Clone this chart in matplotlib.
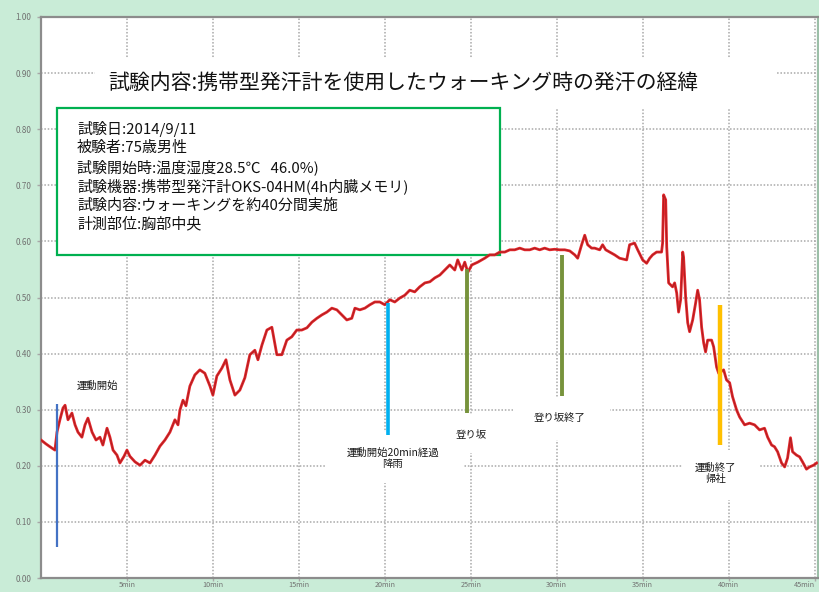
import matplotlib
matplotlib.use("Agg")
import matplotlib.pyplot as plt
from matplotlib.patches import Rectangle

plt.rcParams['font.family'] = ['Noto Sans CJK JP', 'DejaVu Sans']

# ---- data ----
minutes = [0.00, 0.29, 0.52, 0.81, 0.93, 1.10, 1.28, 1.40, 1.57, 1.80, 1.98, 2.15, 2.38, 2.56, 2.73,
           2.97, 3.20, 3.43, 3.60, 3.84, 4.01, 4.19, 4.42, 4.59, 4.83, 5.00, 5.17, 5.47, 5.76, 6.05,
           6.34, 6.63, 6.92, 7.21, 7.50, 7.79, 7.97, 8.08, 8.26, 8.43, 8.66, 8.95, 9.24, 9.53, 9.83,
           10.00, 10.23, 10.52, 10.76, 10.99, 11.28, 11.57, 11.86, 12.15, 12.44, 12.62, 12.85, 13.14,
           13.43, 13.72, 14.01, 14.30, 14.59, 14.88, 15.17, 15.47, 15.76, 16.05, 16.34, 16.63, 16.92,
           17.21, 17.50, 17.79, 18.08, 18.26, 18.55, 18.84, 19.13, 19.42, 19.71, 20.00, 20.29, 20.58,
           20.87, 21.16, 21.45, 21.74, 22.03, 22.33, 22.62, 22.91, 23.20, 23.49, 23.78, 24.07, 24.24,
           24.48, 24.65, 24.83, 25.06, 25.41, 25.81, 26.10, 26.40, 26.69, 26.98, 27.27, 27.56, 27.85,
           28.14, 28.43, 28.72, 29.01, 29.30, 29.59, 29.88, 30.17, 30.47, 30.76, 31.05, 31.22, 31.45,
           31.63, 31.80, 32.03, 32.21, 32.50, 32.67, 32.85, 33.08, 33.37, 33.66, 34.07, 34.24, 34.53,
           34.71, 35.00, 35.23, 35.41, 35.58, 35.81, 36.10, 36.16, 36.22, 36.34, 36.40, 36.51, 36.74,
           36.86, 36.98, 37.09, 37.21, 37.33, 37.38, 37.50, 37.62, 37.73, 37.91, 38.08, 38.20, 38.31,
           38.43, 38.55, 38.66, 38.78, 39.01, 39.13, 39.30, 39.42, 39.71, 39.88, 40.06, 40.23, 40.47,
           40.64, 40.93, 41.22, 41.51, 41.80, 42.09, 42.27, 42.50, 42.67, 42.85, 43.08, 43.26, 43.43,
           43.60, 43.72, 43.95, 44.13, 44.30, 44.53, 44.71, 44.94, 45.12]
sweat = [0.246, 0.239, 0.234, 0.228, 0.260, 0.282, 0.303, 0.308, 0.282, 0.294, 0.273, 0.260, 0.251, 0.273, 0.285,
         0.260, 0.246, 0.251, 0.237, 0.267, 0.251, 0.228, 0.219, 0.205, 0.217, 0.228, 0.217, 0.207, 0.201, 0.210,
         0.205, 0.219, 0.235, 0.246, 0.260, 0.282, 0.273, 0.299, 0.317, 0.307, 0.342, 0.362, 0.371, 0.365, 0.342,
         0.326, 0.360, 0.374, 0.389, 0.353, 0.326, 0.335, 0.357, 0.398, 0.406, 0.389, 0.415, 0.442,
         0.447, 0.398, 0.398, 0.424, 0.430, 0.442, 0.442, 0.446, 0.456, 0.463, 0.469, 0.474, 0.481,
         0.478, 0.469, 0.460, 0.463, 0.481, 0.478, 0.481, 0.487, 0.492, 0.492, 0.487, 0.496, 0.492,
         0.499, 0.504, 0.513, 0.510, 0.519, 0.526, 0.528, 0.535, 0.540, 0.549, 0.558, 0.549, 0.567,
         0.549, 0.563, 0.545, 0.558, 0.563, 0.570, 0.576, 0.576, 0.581, 0.581, 0.585, 0.585, 0.588,
         0.585, 0.585, 0.588, 0.585, 0.588, 0.585, 0.586, 0.585, 0.585, 0.583, 0.576, 0.570, 0.594,
         0.611, 0.594, 0.588, 0.588, 0.585, 0.594, 0.585, 0.581, 0.576, 0.570, 0.567, 0.594, 0.597,
         0.585, 0.567, 0.561, 0.570, 0.576, 0.581, 0.581, 0.597, 0.683, 0.674, 0.590, 0.526, 0.519,
         0.526, 0.508, 0.474, 0.496, 0.581, 0.572, 0.501, 0.455, 0.439, 0.460, 0.490, 0.513, 0.496,
         0.447, 0.419, 0.403, 0.424, 0.424, 0.412, 0.376, 0.365, 0.371, 0.353, 0.348, 0.323, 0.299,
         0.287, 0.273, 0.276, 0.273, 0.264, 0.267, 0.251, 0.237, 0.234, 0.225, 0.205, 0.198, 0.214,
         0.250, 0.225, 0.219, 0.216, 0.207, 0.194, 0.198, 0.201, 0.205]

event_x = [0.93, 20.17, 24.77, 30.29, 39.48]
event_ymin = [0.055, 0.255, 0.295, 0.325, 0.237]
event_ymax = [0.310, 0.490, 0.550, 0.575, 0.487]
event_colors = ['#4472c4', '#00b0f0', '#77933c', '#77933c', '#ffc000']
event_widths = [1.6, 2.6, 2.8, 2.8, 3.2]

label_texts = ['運動開始', '運動開始20min経過\n降雨', '登り坂', '登り坂終了', '運動終了\n帰社']
label_x = [3.26, 20.47, 25.06, 30.17, 39.24]
label_y = [0.342, 0.213, 0.255, 0.285, 0.186]

yticks = [0.0, 0.1, 0.2, 0.3, 0.4, 0.5, 0.6, 0.7, 0.8, 0.9, 1.0]
ytick_labels = ['0.00', '0.10', '0.20', '0.30', '0.40', '0.50', '0.60', '0.70', '0.80', '0.90', '1.00']
xticks = [5, 10, 15, 20, 25, 30, 35, 40, 45]
xtick_labels = ['5min', '10min', '15min', '20min', '25min', '30min', '35min', '40min', '45min']

title_text = '試験内容:携帯型発汗計を使用したウォーキング時の発汗の経緯'
info_lines = ['試験日:2014/9/11',
              '被験者:75歳男性',
              '試験開始時:温度湿度28.5℃   46.0%)',
              '試験機器:携帯型発汗計OKS-04HM(4h内臓メモリ)',
              '試験内容:ウォーキングを約40分間実施',
              '計測部位:胸部中央']

# ---- figure ----
fig = plt.figure(figsize=(8.2, 5.92), dpi=100, facecolor='#c9ecd7')
ax = fig.add_axes([41/820, 1-578/592, 777/820, 561/592])
ax.set_facecolor('white')
ax.set_xlim(0, 45.2)
ax.set_ylim(0, 1.0)

ax.set_axisbelow(True)
ax.grid(True, color='#a8a8a8', linestyle=(0, (1, 1.2)), linewidth=1.1)
ax.set_yticks(yticks)
ax.set_yticklabels(ytick_labels)
ax.set_xticks(xticks)
ax.set_xticklabels(xtick_labels)
ax.tick_params(axis='both', labelcolor='#707070', color='#a8a8a8', length=3, width=1)
ax.tick_params(axis='y', pad=4, labelsize=5.8)
ax.tick_params(axis='x', pad=0.5, labelsize=5.2, length=2)
ax.get_xticklabels()[-1].set_horizontalalignment('right')
for s in ax.spines.values():
    s.set_color('#8c8c8c')
    s.set_linewidth(1.6)
ax.spines['right'].set_color('#9cbfa8')

# white boxes that cover the grid behind texts
def white_box(x0, x1, y0, y1):
    ax.add_patch(Rectangle((x0, y0), x1 - x0, y1 - y0, facecolor='white', edgecolor='none', zorder=1))

white_box(3.14, 42.84, 0.838, 0.927)       # title
white_box(0.10, 4.90, 0.308, 0.385)        # 運動開始
white_box(16.51, 24.53, 0.169, 0.260)      # 20min
white_box(23.50, 26.60, 0.223, 0.292)      # 登り坂
white_box(27.44, 33.08, 0.246, 0.321)      # 登り坂終了
white_box(37.27, 41.80, 0.139, 0.228)      # 運動終了

# info box
ax.add_patch(Rectangle((0.93, 0.576), 26.69 - 0.93, 0.837 - 0.576, facecolor='white',
                       edgecolor='#00b050', linewidth=1.6, zorder=2))

# data line
ax.plot(minutes, sweat, color='#e4262b', linewidth=2.0, zorder=3, solid_joinstyle='round')
ax.plot(minutes, sweat, color='#8e1c1c', linewidth=0.6, alpha=0.7, zorder=3.1)

# event markers
for x, y0, y1, c, w in zip(event_x, event_ymin, event_ymax, event_colors, event_widths):
    ax.vlines(x, y0, y1, colors=c, linewidth=w, zorder=4)

for t, x, y in zip(label_texts, label_x, label_y):
    ax.text(x, y, t, ha='center', va='center', fontsize=7.5, color='#1a1a1a',
            linespacing=1.1, zorder=5)

# title
ax.text(21.1, 0.882, title_text, ha='center', va='center', fontsize=15, color='#111111', zorder=5)

# info text
for i, line in enumerate(info_lines):
    ax.text(2.1, 0.800 - i * 0.0339, line, ha='left', va='center', fontsize=10.8,
            color='#111111', zorder=5)

fig.savefig('out.png', dpi=100, facecolor=fig.get_facecolor())
